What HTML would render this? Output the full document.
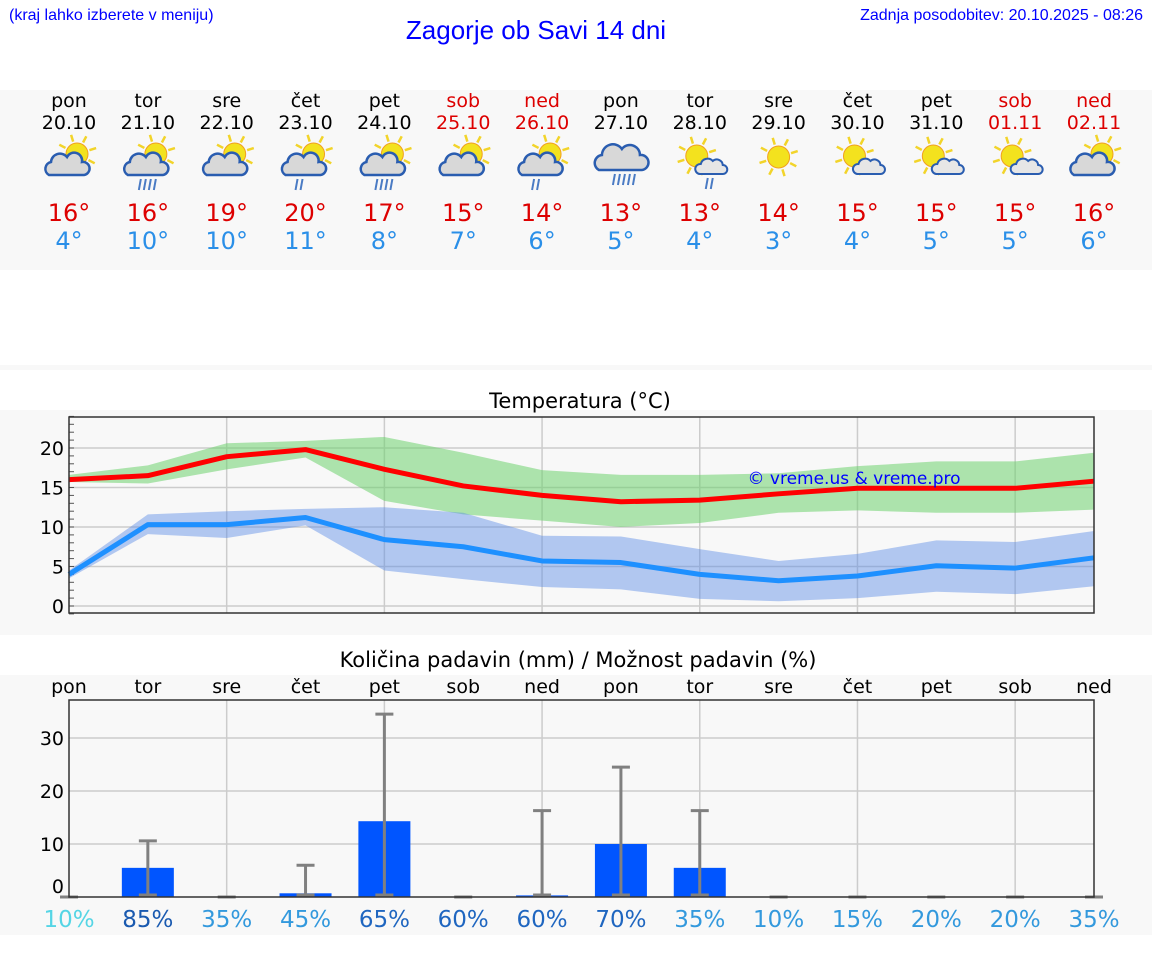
<!DOCTYPE html>
<html><head><meta charset="utf-8"><style>
body{margin:0;width:1152px;height:975px;background:#fff;font-family:"DejaVu Sans","Liberation Sans",sans-serif;position:relative;overflow:hidden}
.a{position:absolute}
</style></head><body>
<div class="a" style="left:9px;top:7px;font:16px 'Liberation Sans',sans-serif;color:#00f">(kraj lahko izberete v meniju)</div>
<div class="a" style="left:0;width:1072px;top:15px;text-align:center;font:26px 'Liberation Sans',sans-serif;color:#00f">Zagorje ob Savi 14 dni</div>
<div class="a" style="right:9px;top:7px;font:16px 'Liberation Sans',sans-serif;color:#00f">Zadnja posodobitev: 20.10.2025 - 08:26</div>
<svg id="s" class="a" style="left:0;top:0" width="1152" height="975"></svg>
<script>
const days=["pon","tor","sre","čet","pet","sob","ned","pon","tor","sre","čet","pet","sob","ned"];
const dates=["20.10","21.10","22.10","23.10","24.10","25.10","26.10","27.10","28.10","29.10","30.10","31.10","01.11","02.11"];
const icons=["pc","pcr3","pc","pcr2","pcr3","pc","pcr2","cr","spr","s","sc","sc","sc","pc"];
const tmax=[16,16.5,18.9,19.8,17.3,15.2,14,13.2,13.4,14.2,14.9,14.9,14.9,15.8];
const tmin=[4,10.3,10.3,11.2,8.4,7.5,5.7,5.5,4,3.2,3.8,5.1,4.8,6.1];
const maxHi=[16.6,17.8,20.6,20.9,21.4,19.4,17.2,16.6,16.6,16.8,17.7,18.3,18.3,19.4];
const maxLo=[15.7,15.5,17.3,18.8,13.3,11.6,10.8,10,10.5,11.8,12.1,11.8,11.8,12.2];
const minHi=[4.5,11.6,12,12.3,12.5,11.8,8.9,8.8,7.2,5.7,6.6,8.3,8.1,9.5];
const minLo=[3.5,9.1,8.6,10.2,4.5,3.4,2.4,2.1,0.9,0.6,1,1.8,1.5,2.5];
const maxLbl=["16°","16°","19°","20°","17°","15°","14°","13°","13°","14°","15°","15°","15°","16°"];
const minLbl=["4°","10°","10°","11°","8°","7°","6°","5°","4°","3°","4°","5°","5°","6°"];
const rain=[0,5.5,0,0.7,14.3,0,0.3,10,5.5,0,0,0,0,0];
const rainHi=[0,10.6,0,6,34.5,0,16.3,24.5,16.3,0,0,0,0,0];
const prob=[10,85,35,45,65,60,60,70,35,10,15,20,20,35];
const tTicks=[0,5,10,15,20];
const rTicks=[0,10,20,30];
const S=document.getElementById('s'),NS='http://www.w3.org/2000/svg';
function E(t,a,p){const e=document.createElementNS(NS,t);for(const k in a)e.setAttribute(k,a[k]);(p||S).appendChild(e);return e}
const X=i=>69+i*(1025/13);
const TY=v=>606-v*7.9;
const RY=v=>897-v*5.3;
let bg=E('rect',{x:0,y:90,width:1152,height:180,fill:'#f8f8f8'});
E('rect',{x:0,y:365,width:1152,height:5,fill:'#f8f8f8'});
E('rect',{x:0,y:410,width:1152,height:225,fill:'#f8f8f8'});
E('rect',{x:0,y:675,width:1152,height:260,fill:'#f8f8f8'});
function txt(x,y,s,size,fill,name,anchor){const t=E('text',{x:x,y:y,'font-size':size,fill:fill,'text-anchor':anchor||'middle','font-family':'DejaVu Sans, Liberation Sans, sans-serif'});t.textContent=s;return t}
function sun(g,cx,cy,r){for(let k=0;k<8;k++){const a=k*Math.PI/4-0.3;E('line',{x1:cx+Math.cos(a)*(r+2),y1:cy+Math.sin(a)*(r+2),x2:cx+Math.cos(a)*(r+9),y2:cy+Math.sin(a)*(r+9),stroke:'#f2d42a','stroke-width':2.5},g)}E('circle',{cx:cx,cy:cy,r:r,fill:'#f3e21e',stroke:'#f0a020','stroke-width':1},g)}
function drops(g,cx,cy,n){for(let k=0;k<n;k++)E('line',{x1:cx-6+k*5+2,y1:cy,x2:cx-6+k*5,y2:cy+11,stroke:'#4a7bc4','stroke-width':2},g)}
for(let i=0;i<14;i++){const x=X(i);const we=(i==5||i==6||i==12||i==13);
 txt(x,107,days[i],19,we?'#d00':'#000','day-name');
 txt(x,129,dates[i],19,we?'#d00':'#000','day-date');
 const g=E('g',{});
 const c=icons[i],cx=x,cy=160;
 if(c=='s'){sun(g,cx,cy-3,11)}
 else if(c=='cr'){E('path',{d:`M${cx-22} ${cy+10} a8 8 0 0 1 3-15 a11 11 0 0 1 20-6 a10 10 0 0 1 18 6 a7 7 0 0 1 2 15 z`,fill:'#d8d8d8',stroke:'#2a5db0','stroke-width':2.5},g);drops(g,cx-2,cy+14,5)}
 else if(c=='sc'||c=='spr'){sun(g,cx-3,cy-4,11);E('path',{d:`M${cx} ${cy+14} a5 5 0 0 1 1-10 a7 7 0 0 1 12-3 a6 6 0 0 1 10 4 a4 4 0 0 1 0 9 z`,fill:'#e6e6e6',stroke:'#2a5db0','stroke-width':2},g);if(c=='spr')drops(g,cx+12,cy+18,2)}
 else{sun(g,cx+8,cy-6,11);E('path',{d:`M${cx-20} ${cy+15} a7 7 0 0 1 2-13 a9 9 0 0 1 16-5 a8 8 0 0 1 15 5 a6 6 0 0 1 2 13 z`,fill:'#d8d8d8',stroke:'#2a5db0','stroke-width':2.5},g);
  if(c=='pcr3')drops(g,cx-3,cy+19,4);if(c=='pcr2')drops(g,cx-4,cy+19,2)}
 txt(x,221,maxLbl[i],24,'#d00','max-temp-label');
 txt(x,249,minLbl[i],24,'#2a8fe8','min-temp-label');
}
txt(580,408,'Temperatura (°C)',21,'#000','temperature-title');
const tg=E('g',{});
tTicks.forEach(v=>{E('line',{x1:69,x2:1094,y1:TY(v),y2:TY(v),stroke:'#ccc','stroke-width':1.5},tg);txt(64,TY(v)+7,String(v),19,'#000','y-tick-label','end')});
for(let v=-1;v<=24;v++)E('line',{x1:69,x2:74,y1:TY(v),y2:TY(v),stroke:'#555','stroke-width':1},tg);
for(let i=2;i<14;i+=2)E('line',{x1:X(i),x2:X(i),y1:417,y2:613,stroke:'#ccc','stroke-width':1.5},tg);
function band(hi,lo,col,name){let d='M';hi.forEach((v,i)=>d+=`${X(i)} ${TY(v)} L`);for(let i=lo.length-1;i>=0;i--)d+=`${X(i)} ${TY(lo[i])}${i?' L':' Z'}`;const p=E('path',{d:d,fill:col},tg);}
band(maxHi,maxLo,'rgba(110,210,110,0.55)','max-temp-range');
band(minHi,minLo,'rgba(90,140,230,0.45)','min-temp-range');
function line(a,col,name){const p=E('polyline',{points:a.map((v,i)=>X(i)+','+TY(v)).join(' '),fill:'none',stroke:col,'stroke-width':5,'stroke-linejoin':'round'},tg);}
line(tmax,'#f00','max-temp-line');line(tmin,'#1e90ff','min-temp-line');
E('rect',{x:69,y:417,width:1025,height:196,fill:'none',stroke:'#333','stroke-width':1.5},tg);
txt(854,484,'© vreme.us & vreme.pro',17,'#00f','watermark');
txt(578,667,'Količina padavin (mm) / Možnost padavin (%)',21,'#000','precip-title');
const pg=E('g',{});
for(let i=0;i<14;i++)txt(X(i),693,days[i],19,'#000','precip-day');
rTicks.forEach(v=>{if(v>0)E('line',{x1:69,x2:1094,y1:RY(v),y2:RY(v),stroke:'#ccc','stroke-width':1.5},pg);txt(64,RY(v)+(v?7:-4),String(v),19,'#000','y-tick-label','end')});
for(let i=2;i<14;i+=2)E('line',{x1:X(i),x2:X(i),y1:700,y2:897,stroke:'#ccc','stroke-width':1.5},pg);
for(let i=0;i<14;i++){
 if(rain[i]>0){const b=E('rect',{x:X(i)-26,y:RY(rain[i]),width:52,height:897-RY(rain[i]),fill:'#0055ff'},pg);}
 const e=E('g',{},pg);
 E('line',{x1:X(i),x2:X(i),y1:RY(rainHi[i]),y2:897,stroke:'#808080','stroke-width':3},e);
 E('line',{x1:X(i)-9,x2:X(i)+9,y1:RY(rainHi[i]),y2:RY(rainHi[i]),stroke:'#808080','stroke-width':3},e);
 if(rainHi[i]>0)E('line',{x1:X(i)-9,x2:X(i)+9,y1:895,y2:895,stroke:'#808080','stroke-width':3},e);
 const p=prob[i];const col=(i==0)?'#55d5e5':p<=45?'#3399dd':p<=80?'#1f66c0':'#1a5ab0';
 txt(X(i),927,p+'%',23,col,'precip-probability');
}
E('rect',{x:69,y:700,width:1025,height:197,fill:'none',stroke:'#333','stroke-width':1.5},pg);
</script>
</body></html>
